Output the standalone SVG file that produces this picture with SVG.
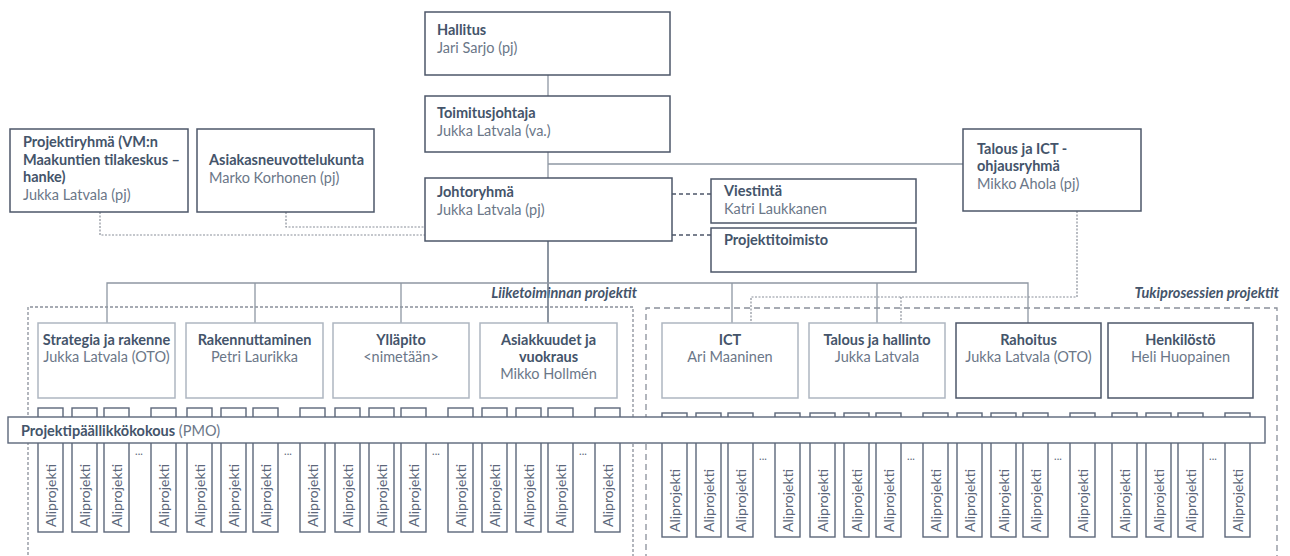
<svg xmlns="http://www.w3.org/2000/svg" xmlns:xlink="http://www.w3.org/1999/xlink" width="1290" height="556" viewBox="0 0 1290 556">
  <style>
    .box{fill:#fff;stroke:#4D5769;stroke-width:1.5}
    .lbox{fill:#fff;stroke:#AEB6C1;stroke-width:1.5}
    .abox{fill:#fff;stroke:#5C677A;stroke-width:1.4}
    .t{font-family:Lato,"Liberation Sans",sans-serif;font-size:14.5px;font-weight:700;fill:#44546A}
    .n{font-family:Lato,"Liberation Sans",sans-serif;font-size:14.5px;font-weight:400;fill:#6B7788}
    .c{text-anchor:middle}
    .al{font-family:Lato,"Liberation Sans",sans-serif;font-size:14px;fill:#5C677A}
    .ell{font-family:Lato,"Liberation Sans",sans-serif;font-size:11px;fill:#5C677A;text-anchor:middle}
    .grp{font-family:Lato,"Liberation Sans",sans-serif;font-size:14.5px;font-weight:700;font-style:italic;fill:#44546A;text-anchor:end}
    .ln{fill:none;stroke:#8E97A3;stroke-width:1.3}
    .lnd{fill:none;stroke:#6F7A89;stroke-width:1.6}
    .dot{fill:none;stroke:#8A909A;stroke-width:1.2;stroke-dasharray:2 1.5}
    .dash{fill:none;stroke:#4D5769;stroke-width:1.4;stroke-dasharray:4 3}
    .frame1{fill:none;stroke:#8A909A;stroke-width:1.3;stroke-dasharray:3 2}
    .frame2{fill:none;stroke:#8A909A;stroke-width:1.3;stroke-dasharray:6 4}
  </style>
  <defs>
    <!-- one sub-project column: tall box, label reads bottom to top -->
    <g id="ali">
      <rect class="abox" x="0" y="408" width="25" height="124"/>
      <text class="al" transform="translate(17.5,527) rotate(-90)">Aliprojekti</text>
    </g>
    <!-- four columns with an ellipsis before the last one -->
    <g id="ali-set">
      <use xlink:href="#ali"/>
      <use xlink:href="#ali" x="34"/>
      <use xlink:href="#ali" x="66"/>
      <text class="ell" x="101" y="455">...</text>
      <use xlink:href="#ali" x="113"/>
    </g>
  </defs>

  <rect width="1290" height="556" fill="#fff"/>

  <!-- project area frames -->
  <g id="frames">
    <path class="frame1" d="M28,560 V307 H633 V560"/>
    <path class="frame2" d="M646,560 V308 H1277 V560"/>
    <text class="grp" x="637" y="298">Liiketoiminnan projektit</text>
    <text class="grp" x="1279" y="298">Tukiprosessien projektit</text>
  </g>

  <!-- connectors -->
  <g id="connectors">
    <path class="ln" d="M548,75 V96"/>
    <path class="ln" d="M548,152 V178"/>
    <path class="ln" d="M548,164 H963"/>
    <path class="lnd" d="M548,241 V323"/>
    <path class="ln" d="M107,323 V283 H1028 V323"/>
    <path class="ln" d="M255,283 V323 M401,283 V323 M732,283 V323 M877,283 V323"/>
    <path class="dot" d="M1077,211 V297 H751 V323 M901,297 V323"/>
    <path class="dot" d="M100,212 V235 H425"/>
    <path class="dot" d="M286,212 V227 H425"/>
    <path class="dash" d="M672,194 H711 M672,235 H711"/>
  </g>

  <!-- governance -->
  <g id="hallitus">
    <rect class="box" x="425" y="12" width="245" height="63"/>
    <text class="t" x="437" y="35">Hallitus</text>
    <text class="n" x="437" y="53">Jari Sarjo (pj)</text>
  </g>
  <g id="toimitusjohtaja">
    <rect class="box" x="425" y="96" width="245" height="56"/>
    <text class="t" x="437" y="118">Toimitusjohtaja</text>
    <text class="n" x="437" y="136">Jukka Latvala (va.)</text>
  </g>
  <g id="johtoryhma">
    <rect class="box" x="425" y="178" width="247" height="63"/>
    <text class="t" x="437" y="197">Johtoryhmä</text>
    <text class="n" x="437" y="215">Jukka Latvala (pj)</text>
  </g>
  <g id="projektiryhma">
    <rect class="box" x="10" y="129" width="178" height="83"/>
    <text class="t" x="23" y="147">Projektiryhmä (VM:n</text>
    <text class="t" x="23" y="165">Maakuntien tilakeskus –</text>
    <text class="t" x="23" y="182">hanke)</text>
    <text class="n" x="23" y="200">Jukka Latvala (pj)</text>
  </g>
  <g id="asiakasneuvottelukunta">
    <rect class="box" x="197" y="129" width="177" height="83"/>
    <text class="t" x="209" y="165">Asiakasneuvottelukunta</text>
    <text class="n" x="209" y="183">Marko Korhonen (pj)</text>
  </g>
  <g id="viestinta">
    <rect class="box" x="711" y="179" width="205" height="44"/>
    <text class="t" x="724" y="196">Viestintä</text>
    <text class="n" x="724" y="214">Katri Laukkanen</text>
  </g>
  <g id="projektitoimisto">
    <rect class="box" x="711" y="228" width="205" height="44"/>
    <text class="t" x="724" y="245">Projektitoimisto</text>
  </g>
  <g id="talous-ict">
    <rect class="box" x="963" y="129" width="178" height="82"/>
    <text class="t" x="977" y="154">Talous ja ICT -</text>
    <text class="t" x="977" y="171">ohjausryhmä</text>
    <text class="n" x="977" y="189">Mikko Ahola (pj)</text>
  </g>

  <!-- business units -->
  <g id="strategia">
    <rect class="lbox" x="38" y="323" width="137" height="75"/>
    <text class="t c" x="106.5" y="345">Strategia ja rakenne</text>
    <text class="n c" x="106.5" y="362">Jukka Latvala (OTO)</text>
  </g>
  <g id="rakennuttaminen">
    <rect class="lbox" x="186" y="323" width="137" height="75"/>
    <text class="t c" x="254.5" y="345">Rakennuttaminen</text>
    <text class="n c" x="254.5" y="362">Petri Laurikka</text>
  </g>
  <g id="yllapito">
    <rect class="lbox" x="333" y="323" width="136" height="75"/>
    <text class="t c" x="401" y="345">Ylläpito</text>
    <text class="n c" x="401" y="362">&lt;nimetään&gt;</text>
  </g>
  <g id="asiakkuudet">
    <rect class="lbox" x="480" y="323" width="137" height="75"/>
    <text class="t c" x="548.5" y="345">Asiakkuudet ja</text>
    <text class="t c" x="548.5" y="362">vuokraus</text>
    <text class="n c" x="548.5" y="379">Mikko Hollmén</text>
  </g>

  <!-- support units -->
  <g id="ict">
    <rect class="lbox" x="662" y="323" width="136" height="75"/>
    <text class="t c" x="730" y="345">ICT</text>
    <text class="n c" x="730" y="362">Ari Maaninen</text>
  </g>
  <g id="talous-hallinto">
    <rect class="lbox" x="809" y="323" width="136" height="75"/>
    <text class="t c" x="877" y="345">Talous ja hallinto</text>
    <text class="n c" x="877" y="362">Jukka Latvala</text>
  </g>
  <g id="rahoitus">
    <rect class="box" x="956" y="323" width="145" height="75"/>
    <text class="t c" x="1028.5" y="345">Rahoitus</text>
    <text class="n c" x="1028.5" y="362">Jukka Latvala (OTO)</text>
  </g>
  <g id="henkilosto">
    <rect class="box" x="1108" y="323" width="145" height="75"/>
    <text class="t c" x="1180.5" y="345">Henkilöstö</text>
    <text class="n c" x="1180.5" y="362">Heli Huopainen</text>
  </g>

  <!-- sub-projects -->
  <g id="ali-strategia"><use xlink:href="#ali-set" transform="translate(38,0)"/></g>
  <g id="ali-rakennuttaminen"><use xlink:href="#ali-set" transform="translate(187,0)"/></g>
  <g id="ali-yllapito"><use xlink:href="#ali-set" transform="translate(335,0)"/></g>
  <g id="ali-asiakkuudet"><use xlink:href="#ali-set" transform="translate(482,0)"/></g>
  <g id="ali-ict"><use xlink:href="#ali-set" transform="translate(662,5)"/></g>
  <g id="ali-talous"><use xlink:href="#ali-set" transform="translate(810,5)"/></g>
  <g id="ali-rahoitus"><use xlink:href="#ali-set" transform="translate(957,5)"/></g>
  <g id="ali-henkilosto"><use xlink:href="#ali-set" transform="translate(1112,5)"/></g>

  <!-- project managers' meeting bar across all columns -->
  <g id="pmo">
    <rect class="abox" x="8" y="417" width="1257" height="26"/>
    <text x="21" y="436"><tspan class="t">Projektipäällikkökokous</tspan><tspan class="n"> (PMO)</tspan></text>
  </g>
</svg>
